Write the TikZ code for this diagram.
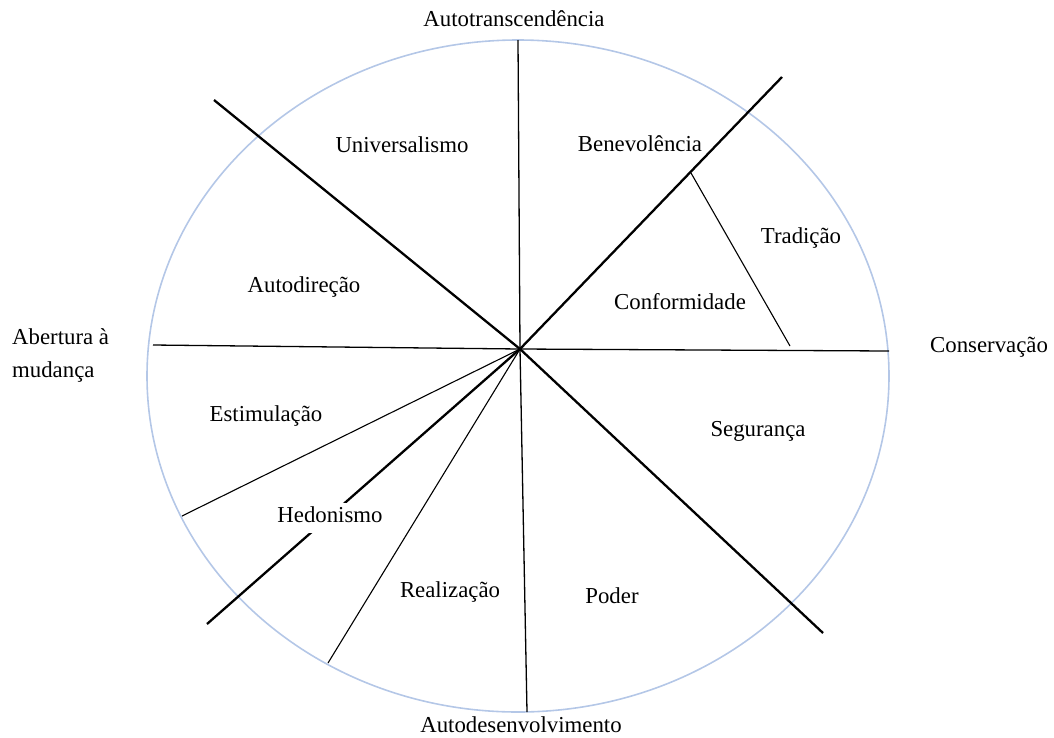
\documentclass[tikz,border=0pt]{standalone}
\usepackage{fontspec}
\setmainfont{Liberation Serif}
\begin{document}
\begin{tikzpicture}[x=1pt,y=-1pt,
  lbl/.style={font=\fontsize{22.8}{27}\selectfont, inner sep=0pt, anchor=base},
  ring/.style={draw={rgb,255:red,180;green,199;blue,231}, line width=1.6pt},
  axisline/.style={draw=black, line width=1.3pt},
  heavyline/.style={draw=black, line width=2.3pt},
  lightline/.style={draw=black, line width=1.1pt}]
\useasboundingbox (0,0) rectangle (1054,737);
\draw[ring] (518,376) ellipse [x radius=371, y radius=336];
\coordinate (c) at (520,349);
\coordinate (top) at (518,40);
\coordinate (bot) at (527,712);
\coordinate (lft) at (153,345);
\coordinate (rgt) at (889,351);
\coordinate (nw) at (214,100);
\coordinate (se) at (823,633);
\coordinate (ne) at (782,77);
\coordinate (sw) at (207,624);
\coordinate (est) at (182,516);
\coordinate (rea) at (328,663);
\coordinate (tra1) at (691,173);
\coordinate (tra2) at (790,346);
\draw[axisline] (top) -- (c) -- (bot);
\draw[axisline] (lft) -- (c) -- (rgt);
\draw[heavyline] (nw) -- (c) -- (se);
\draw[heavyline] (ne) -- (c) -- (sw);
\draw[lightline] (est) -- (c);
\draw[lightline] (rea) -- (c);
\draw[lightline] (tra1) -- (tra2);
\node[lbl] (autotr) at (514,26) {Autotranscendência};
\node[lbl] (autodes) at (521,732) {Autodesenvolvimento};
\node[lbl, anchor=base west] (conserv) at (930,352) {Conservação};
\node[lbl, anchor=base west] (abert1) at (12,344) {Abertura à};
\node[lbl, anchor=base west] (abert2) at (12,377) {mudança};
\node[lbl] (univ) at (402,152) {Universalismo};
\node[lbl] (benev) at (640,151) {Benevolência};
\node[lbl] (trad) at (801,243) {Tradição};
\node[lbl] (autodir) at (304,292) {Autodireção};
\node[lbl] (conf) at (680,309) {Conformidade};
\node[lbl] (estim) at (266,421) {Estimulação};
\node[lbl] (segur) at (758,436) {Segurança};
\node[lbl, fill=white, inner xsep=2pt, inner ysep=3pt, text depth=8pt] (hedon) at (330,522) {Hedonismo};
\node[lbl] (realiz) at (450,597) {Realização};
\node[lbl] (poder) at (612,603) {Poder};
\end{tikzpicture}
\end{document}
